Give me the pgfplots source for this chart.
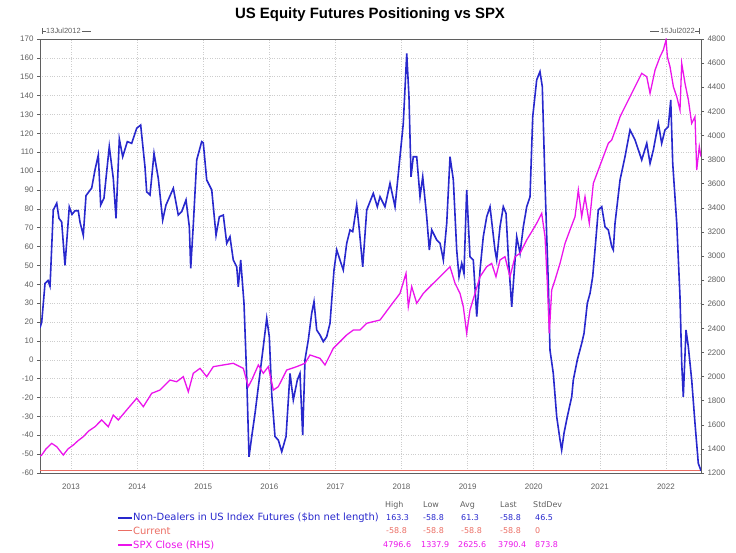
\documentclass[border=0pt]{standalone}
\usepackage{fontspec}
\setmainfont{Liberation Sans}
\newfontfamily\legfont{DejaVu Sans}
\usepackage{pgfplots}
\pgfplotsset{compat=1.18}
\definecolor{nd}{RGB}{40,40,205}
\definecolor{spx}{RGB}{235,20,235}
\definecolor{cur}{RGB}{235,110,100}
\definecolor{tk}{RGB}{95,95,95}
\definecolor{grd}{RGB}{205,205,205}

\pgfplotstableread{
yr v
2012.530 17
2012.556 20
2012.606 40.5
2012.651 42
2012.681 39
2012.688 44
2012.731 79.4
2012.783 83
2012.817 75
2012.858 73
2012.908 50
2012.973 81
2013.014 77
2013.059 79
2013.109 79
2013.135 73
2013.185 66
2013.226 87
2013.312 91
2013.362 100.6
2013.412 108.5
2013.448 82
2013.498 85.7
2013.578 113
2013.639 96
2013.680 75
2013.730 117
2013.781 107.6
2013.851 115.6
2013.917 114.7
2013.993 122.7
2014.053 124.4
2014.118 102.3
2014.144 89
2014.194 87.3
2014.255 109.4
2014.320 96
2014.386 74
2014.436 82
2014.547 90.9
2014.622 76.7
2014.674 78.5
2014.739 84.7
2014.789 70.5
2014.810 48.5
2014.849 71.4
2014.901 105.9
2014.976 115.6
2015.000 115
2015.052 95.3
2015.128 90
2015.193 66
2015.243 75.8
2015.303 76.7
2015.355 61.7
2015.404 65.2
2015.454 52.9
2015.506 49.3
2015.530 38.7
2015.566 52.9
2015.616 30
2015.657 -9
2015.692 -51.4
2015.733 -40.7
2015.783 -28.4
2015.858 -7.2
2015.908 6.9
2015.960 22
2015.999 12.2
2016.035 -17.8
2016.085 -40.7
2016.135 -42.5
2016.187 -48.7
2016.252 -40.7
2016.312 -7.2
2016.362 -21.3
2016.423 -10.7
2016.463 -7.2
2016.504 -39.9
2016.539 0
2016.589 10.5
2016.640 24.6
2016.675 30.8
2016.716 15.8
2016.766 13.1
2016.816 9.6
2016.867 12.2
2016.917 19.3
2016.978 47.6
2017.019 58.2
2017.068 52.9
2017.118 47.6
2017.170 61.7
2017.220 68.8
2017.261 67.9
2017.321 82
2017.361 68.8
2017.412 49.3
2017.473 79.4
2017.572 88.2
2017.633 81.1
2017.674 86.4
2017.749 81.1
2017.825 93.5
2017.901 81.1
2017.976 107.6
2018.026 125.3
2018.078 162.4
2018.112 139.4
2018.143 97
2018.177 107.6
2018.229 107.6
2018.279 86.4
2018.320 97
2018.380 75.8
2018.420 58.2
2018.456 68.8
2018.532 63.5
2018.582 61.7
2018.632 52.9
2018.683 72.3
2018.733 107.6
2018.783 95.3
2018.834 58.2
2018.869 44
2018.910 51.1
2018.944 45.8
2018.985 90
2019.035 54.6
2019.085 52.9
2019.137 22.9
2019.187 47.6
2019.236 65.2
2019.288 75.8
2019.338 81.1
2019.413 58.2
2019.439 52.9
2019.489 70.5
2019.539 81.1
2019.580 77.6
2019.615 54.6
2019.666 28.1
2019.742 65.2
2019.792 56.4
2019.842 70.5
2019.893 81.1
2019.943 86.4
2019.984 128.8
2020.044 148.3
2020.094 152.7
2020.129 144.7
2020.170 93.5
2020.196 65.2
2020.220 40.5
2020.245 5.2
2020.295 -7.2
2020.347 -30.2
2020.397 -42.5
2020.422 -47.8
2020.457 -39
2020.507 -30.2
2020.574 -19.6
2020.598 -10.7
2020.659 0
2020.725 8.7
2020.760 14
2020.810 30
2020.851 35.2
2020.891 44
2020.926 58.2
2020.976 79.4
2021.028 81.1
2021.078 70.5
2021.128 68.8
2021.179 60
2021.203 58.2
2021.229 72.3
2021.305 95.3
2021.380 107.6
2021.456 121.8
2021.532 116.5
2021.633 105.9
2021.709 114.7
2021.759 104.1
2021.809 111.2
2021.884 125.3
2021.935 114.7
2021.985 121.8
2022.035 123.5
2022.072 137.7
2022.102 104.1
2022.163 72.3
2022.212 33.4
2022.238 -1.9
2022.262 -19.6
2022.303 15.8
2022.338 6.9
2022.389 -10.7
2022.439 -33.7
2022.489 -54.9
2022.530 -58.8
}\nondealers

\pgfplotstableread{
yr s
2012.530 1340
2012.556 1349
2012.621 1400
2012.707 1446
2012.783 1418
2012.882 1349
2012.954 1400
2013.034 1432
2013.110 1470
2013.185 1501
2013.270 1550
2013.362 1584
2013.463 1640
2013.563 1584
2013.639 1681
2013.715 1640
2013.842 1723
2013.993 1820
2014.093 1750
2014.220 1861
2014.345 1888
2014.497 1971
2014.598 1957
2014.698 1999
2014.774 1874
2014.849 2027
2014.951 2068
2015.052 1999
2015.152 2082
2015.303 2096
2015.454 2110
2015.606 2068
2015.681 1916
2015.733 1971
2015.833 2096
2015.908 2027
2015.984 2082
2016.060 1888
2016.135 1916
2016.262 2054
2016.413 2082
2016.539 2110
2016.615 2179
2016.766 2151
2016.842 2096
2016.967 2234
2017.170 2345
2017.270 2386
2017.371 2386
2017.473 2442
2017.674 2469
2017.825 2580
2017.976 2690
2018.067 2856
2018.102 2580
2018.153 2746
2018.229 2608
2018.329 2690
2018.430 2746
2018.532 2801
2018.632 2856
2018.733 2911
2018.809 2773
2018.884 2690
2018.934 2580
2018.985 2359
2019.035 2552
2019.111 2690
2019.187 2828
2019.288 2911
2019.363 2939
2019.428 2828
2019.489 2967
2019.564 2994
2019.640 2828
2019.716 2994
2019.792 3022
2019.893 3133
2019.969 3202
2020.044 3271
2020.120 3354
2020.170 3160
2020.205 2773
2020.235 2359
2020.271 2718
2020.321 2801
2020.397 2939
2020.473 3105
2020.548 3216
2020.624 3326
2020.674 3547
2020.725 3326
2020.775 3492
2020.840 3271
2020.901 3603
2020.976 3713
2021.052 3824
2021.128 3935
2021.179 3962
2021.254 4073
2021.305 4155
2021.380 4238
2021.456 4321
2021.557 4432
2021.633 4515
2021.709 4487
2021.759 4349
2021.835 4543
2021.910 4653
2021.960 4709
2022.001 4792
2022.021 4653
2022.061 4570
2022.112 4404
2022.163 4321
2022.212 4211
2022.238 4598
2022.288 4432
2022.339 4294
2022.389 4100
2022.439 4155
2022.465 3713
2022.504 3907
2022.530 3824
}\spxclose

\pgfplotsset{
  common/.style={
    at={(40bp,80bp)}, anchor=south west, scale only axis,
    width=661bp, height=434bp,
    xmin=2012.53, xmax=2022.53,
    tick align=outside, major tick length=3bp,
    tick style={tk, line width=0.5bp},
    ticklabel style={font=\fontsize{8}{9}\selectfont, text=tk},
    /pgf/number format/assume math mode=true,
    /pgf/number format/1000 sep={},
  }
}

\begin{document}
\begin{tikzpicture}[x=1bp,y=1bp]
\useasboundingbox (0,0) rectangle (736,553);
\begin{axis}[common,
  ymin=-60, ymax=170,
  ytick={-60,-50,...,170},
  xtick={2013,2014,...,2022},
  xticklabels={2013,2014,2015,2016,2017,2018,2019,2020,2021,2022},
  xtick style={draw=none},
  xticklabel style={yshift=-4bp},
  grid=major,
  major grid style={grd, dotted, line width=0.5bp},
  axis y line*=left, axis x line*=bottom,
  axis line style={tk, line width=0.8bp, -},
]
\addplot[cur, line width=1bp] coordinates {(2012.53,-58.8) (2022.53,-58.8)};
\addplot[nd, line width=1.6bp] table[x=yr, y=v] {\nondealers};
\end{axis}
\begin{axis}[common,
  ymin=1200, ymax=4800,
  ytick={1200,1400,...,4800},
  axis y line*=right, axis x line*=top,
  axis line style={tk, line width=0.8bp, -},
  xtick=\empty,
]
\addplot[spx, line width=1.3bp] table[x=yr, y=s] {\spxclose};
\end{axis}

% title
\node[font=\bfseries\fontsize{15}{17}\selectfont] at (370,538) {US Equity Futures Positioning vs SPX};
% date annotations
\draw[tk, line width=0.5bp] (42,519)--(42,525) (42,522)--(46,522);
\node[anchor=west, inner sep=0pt, font=\fontsize{7.5}{8}\selectfont, text=tk] (d1) at (46,522) {13Jul2012};
\draw[tk, line width=0.5bp] (d1.east)++(1,0)--++(9,0);
\draw[tk, line width=0.5bp] (699,519)--(699,525) (699,522)--(695,522);
\node[anchor=east, inner sep=0pt, font=\fontsize{7.5}{8}\selectfont, text=tk] (d2) at (695,522) {15Jul2022};
\draw[tk, line width=0.5bp] (d2.west)++(-1,0)--++(-9,0);

% legend table
\begin{scope}[every node/.style={anchor=west, inner sep=0pt, font=\legfont\fontsize{8}{9}\selectfont}]
\node[text=tk] at (385,48) {High};
\node[text=tk] at (423,48) {Low};
\node[text=tk] at (460,48) {Avg};
\node[text=tk] at (500,48) {Last};
\node[text=tk] at (533,48) {StdDev};

\draw[nd, line width=1.2bp] (118,35)--(132,35);
\node[text=nd, font=\legfont\fontsize{10}{11}\selectfont] at (133,35) {Non-Dealers in US Index Futures (\$bn net length)};
\node[text=nd] at (386,35) {163.3};
\node[text=nd] at (423,35) {-58.8};
\node[text=nd] at (461,35) {61.3};
\node[text=nd] at (500,35) {-58.8};
\node[text=nd] at (535,35) {46.5};

\draw[cur, line width=1bp] (118,22)--(132,22);
\node[text=cur, font=\legfont\fontsize{10}{11}\selectfont] at (133,22) {Current};
\node[text=cur] at (386,22) {-58.8};
\node[text=cur] at (423,22) {-58.8};
\node[text=cur] at (461,22) {-58.8};
\node[text=cur] at (500,22) {-58.8};
\node[text=cur] at (535,22) {0};

\draw[spx, line width=1.2bp] (118,8)--(132,8);
\node[text=spx, font=\legfont\fontsize{10}{11}\selectfont] at (133,8) {SPX Close (RHS)};
\node[text=spx] at (383,8) {4796.6};
\node[text=spx] at (421,8) {1337.9};
\node[text=spx] at (458,8) {2625.6};
\node[text=spx] at (498,8) {3790.4};
\node[text=spx] at (535,8) {873.8};
\end{scope}
\end{tikzpicture}
\end{document}
